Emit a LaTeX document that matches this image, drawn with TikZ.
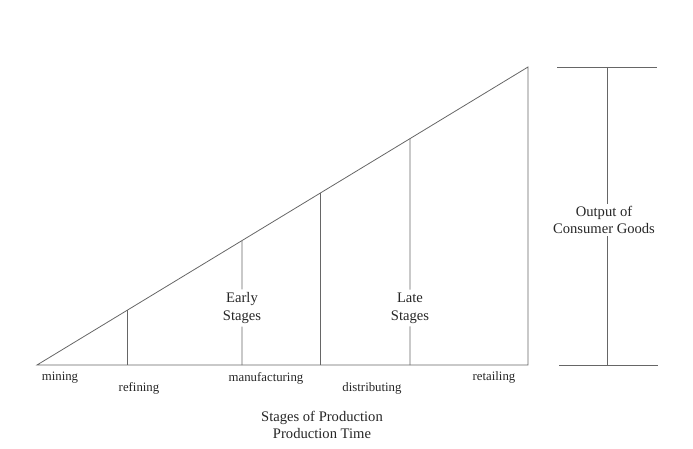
\documentclass[tikz,border=0pt]{standalone}
\usepackage{fontspec}
\setmainfont{Liberation Serif}
\usetikzlibrary{calc}

\tikzset{
    stageline/.style={draw=black!60, line width=0.8pt},
    stagelabel/.style={text=black!85, font=\fontsize{12.8}{15}\selectfont, inner sep=1pt},
    bigtext/.style={text=black!85, font=\fontsize{14.6}{17.6}\selectfont, align=center, inner sep=3pt}
}

\begin{document}
\begin{tikzpicture}[x=1pt, y=1pt]

    \useasboundingbox (0,0) rectangle (693,448);

    % Define the corners of the triangle
    \coordinate (O) at (37,83);
    \coordinate (T) at (528,381);
    \coordinate (R) at (528,83);

    % Points on the slope above each stage line
    \coordinate (A) at ($(O)!0.1833!(T)$);
    \coordinate (B) at ($(O)!0.4175!(T)$);
    \coordinate (C) at ($(O)!0.5764!(T)$);
    \coordinate (D) at ($(O)!0.7597!(T)$);

    % Draw the triangle
    \draw[stageline] (O) -- (T) -- (R) -- cycle;

    % Draw the stage lines
    \draw[stageline] (A) -- (A |- O);
    \draw[stageline] (C) -- (C |- O);

    % Stage texts breaking the lines
    \node[bigtext] (early) at (242,140) {Early\\Stages};
    \node[bigtext] (late) at (410,140) {Late\\Stages};
    \draw[stageline] (B) -- (early);
    \draw[stageline] (early) -- (B |- O);
    \draw[stageline] (D) -- (late);
    \draw[stageline] (late) -- (D |- O);

    % Draw the output bar on the right
    \coordinate (P1) at (557,381);
    \coordinate (P2) at (657,381);
    \coordinate (P3) at (559,83);
    \coordinate (P4) at (658,83);
    \coordinate (Ptop) at (607,381);
    \coordinate (Pbot) at (607,83);
    \draw[stageline] (P1) -- (P2);
    \draw[stageline] (P3) -- (P4);
    \node[bigtext, inner sep=2pt] (output) at (604,228) {Output of\\Consumer Goods};
    \draw[stageline] (Ptop) -- (Ptop |- output.north);
    \draw[stageline] (Pbot |- output.south) -- (Pbot);

    % Add labels for the stages
    \node[stagelabel] (mining) at (60,70) {mining};
    \node[stagelabel] (refining) at (139,60) {refining};
    \node[stagelabel] (manufacturing) at (266,70) {manufacturing};
    \node[stagelabel] (distributing) at (372,60) {distributing};
    \node[stagelabel] (retailing) at (494,71) {retailing};

    % Add the axis title
    \node[bigtext, inner sep=0pt] (title) at (322,23) {Stages of Production\\Production Time};

\end{tikzpicture}
\end{document}
